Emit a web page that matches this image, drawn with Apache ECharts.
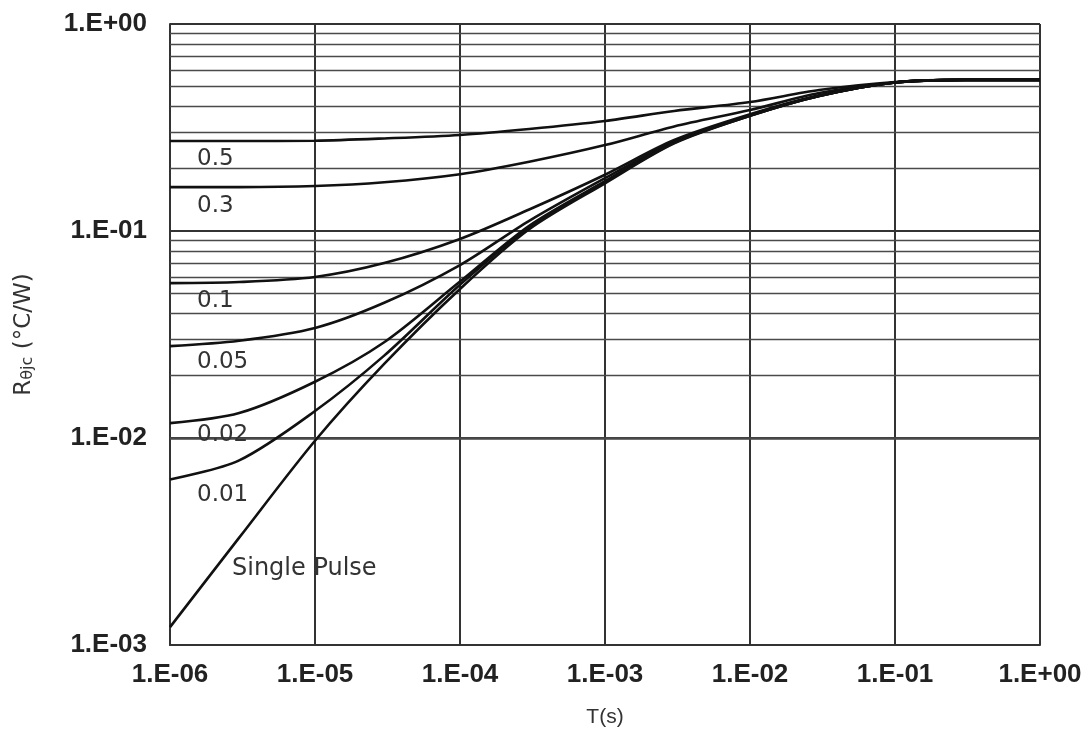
<!DOCTYPE html>
<html>
<head>
<meta charset="utf-8">
<script src="https://cdn.jsdelivr.net/npm/echarts@6/dist/echarts.min.js"></script>
<style>html,body{margin:0;padding:0;background:#fff}#c{width:1086px;height:732px}</style>
</head>
<body>
<div id="c"></div>
<script>
// Pulse width T (s)
const tValues = [1e-6, 3e-6, 1e-5, 3e-5, 1e-4, 3e-4, 1e-3, 3e-3, 1e-2, 3e-2, 1e-1, 3e-1, 1];
// Thermal impedance (°C/W) per duty cycle
const d05 = [0.272, 0.272, 0.273, 0.280, 0.291, 0.311, 0.340, 0.380, 0.420, 0.480, 0.525, 0.537, 0.537];
const d03 = [0.163, 0.163, 0.165, 0.172, 0.188, 0.216, 0.260, 0.320, 0.384, 0.464, 0.522, 0.537, 0.537];
const d01 = [0.056, 0.0567, 0.060, 0.070, 0.0915, 0.127, 0.187, 0.275, 0.366, 0.452, 0.522, 0.537, 0.537];
const d005 = [0.0278, 0.0295, 0.034, 0.045, 0.0685, 0.112, 0.180, 0.270, 0.363, 0.450, 0.522, 0.537, 0.537];
const d002 = [0.0118, 0.0132, 0.0187, 0.029, 0.057, 0.106, 0.174, 0.268, 0.361, 0.449, 0.522, 0.537, 0.537];
const d001 = [0.0063, 0.0078, 0.0135, 0.025, 0.055, 0.104, 0.172, 0.267, 0.360, 0.449, 0.522, 0.537, 0.537];
const single = [0.00122, 0.0033, 0.0097, 0.0228, 0.0525, 0.102, 0.170, 0.265, 0.360, 0.449, 0.522, 0.537, 0.537];
const seriesNames = ['0.5', '0.3', '0.1', '0.05', '0.02', '0.01', 'Single Pulse'];
const seriesData = [d05, d03, d01, d005, d002, d001, single];
// Tick labels
const xTickLabels = {'-6':'1.E-06','-5':'1.E-05','-4':'1.E-04','-3':'1.E-03','-2':'1.E-02','-1':'1.E-01','0':'1.E+00'};
const yTickLabels = {'-3':'1.E-03','-2':'1.E-02','-1':'1.E-01','0':'1.E+00'};
// Minor horizontal grid values
const minorY = [0.002,0.003,0.004,0.005,0.006,0.007,0.008,0.009,
                0.02,0.03,0.04,0.05,0.06,0.07,0.08,0.09,
                0.2,0.3,0.4,0.5,0.6,0.7,0.8,0.9];

const chart = echarts.init(document.getElementById('c'), null, {renderer:'canvas'});
const expKey = v => String(Math.round(Math.log10(v)));
const tickFont = {fontFamily:'Liberation Sans, Arial, sans-serif', fontWeight:'bold', fontSize:26, color:'#222'};

const series = seriesData.map((arr, i) => ({
  type:'line', name: seriesNames[i], smooth:0.3, symbol:'none',
  lineStyle:{color:'#111', width:2.6},
  data: tValues.map((t, j) => [t, arr[j]]),
  z: 5
}));
series.push({
  type:'line', data:[], symbol:'none', silent:true,
  markLine:{silent:true, symbol:'none', label:{show:false},
    lineStyle:{color:'#4a4a4a', width:1.4, type:'solid'},
    data: minorY.map(v => ({yAxis:v}))},
  z: 1
});

const labelFont = 'DejaVu Sans, sans-serif';
const curveLabels = [
  {text:'0.5', x:197, y:157, s:23},
  {text:'0.3', x:197, y:204, s:23},
  {text:'0.1', x:197, y:299, s:23},
  {text:'0.05', x:197, y:360, s:23},
  {text:'0.02', x:197, y:433, s:23},
  {text:'0.01', x:197, y:493, s:23},
  {text:'Single Pulse', x:232, y:566, s:24}
];

chart.setOption({
  animation:false,
  backgroundColor:'#fff',
  grid:{left:170, right:46, top:24, bottom:87, containLabel:false, outerBoundsMode:'none'},
  xAxis:{
    type:'log', logBase:10, min:1e-6, max:1, splitNumber:6,
    name:'T(s)', nameLocation:'middle', nameGap:62,
    nameTextStyle:{fontFamily:'Liberation Sans, Arial, sans-serif', fontSize:21, color:'#333'},
    axisLine:{show:true, lineStyle:{color:'#333', width:2}},
    axisTick:{show:false},
    axisLabel:{...tickFont, margin:17, formatter:v => xTickLabels[expKey(v)] || ''},
    splitLine:{show:true, lineStyle:{color:'#333', width:2}}
  },
  yAxis:{
    type:'log', logBase:10, min:1e-3, max:1, splitNumber:3,
    name:'{r|R}{s|θjc}{r| (°C/W)}', nameLocation:'middle', nameGap:134, nameRotate:90,
    nameTextStyle:{rich:{
      r:{fontFamily:'DejaVu Sans, sans-serif', fontSize:23, color:'#333', lineHeight:24},
      s:{fontFamily:'DejaVu Sans, sans-serif', fontSize:16, color:'#333', lineHeight:6, verticalAlign:'bottom'}
    }},
    axisLine:{show:true, lineStyle:{color:'#333', width:2}},
    axisTick:{show:false},
    axisLabel:{...tickFont, margin:23, formatter:v => yTickLabels[expKey(v)] || ''},
    splitLine:{show:true, lineStyle:{color:'#333', width:2}},
    minorSplitLine:{show:false}
  },
  graphic: curveLabels.map(l => ({
    type:'text', left:l.x, top:l.y - 9, z:10,
    style:{text:l.text, font:l.s + 'px ' + labelFont, fill:'#333'}
  })),
  series: series
});
</script>
</body>
</html>
